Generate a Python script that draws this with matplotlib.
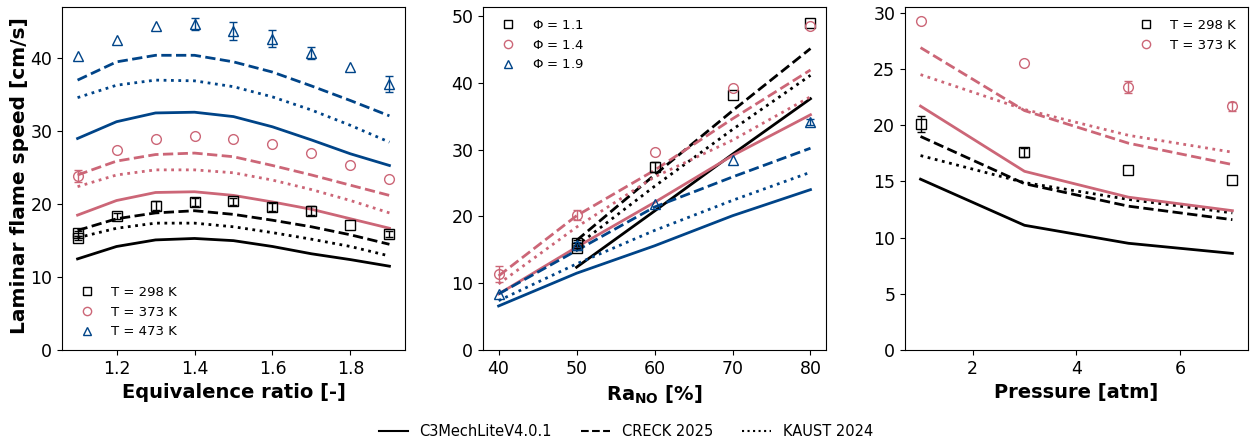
import matplotlib
matplotlib.use("Agg")
import matplotlib.pyplot as plt
from matplotlib.lines import Line2D
import numpy as np

BLACK = 'black'
PINK = '#CC6677'
BLUE = '#004488'

# ---- panel 1: equivalence ratio ----
phi = [1.1, 1.2, 1.3, 1.4, 1.5, 1.6, 1.7, 1.8, 1.9]
phi_298 = [1.1, 1.1, 1.2, 1.3, 1.4, 1.5, 1.6, 1.7, 1.8, 1.9]
exp_298 = [16.0, 15.4, 18.4, 19.8, 20.3, 20.4, 19.6, 19.1, 17.1, 15.9]
err_298 = [0.3, 0.3, 0.4, 0.6, 0.6, 0.5, 0.5, 0.6, 0, 0.4]
exp_373 = [23.9, 27.4, 28.9, 29.4, 28.9, 28.2, 27.0, 25.3, 23.5]
err_373 = [0.8, 0, 0, 0, 0, 0, 0, 0, 0]
exp_473 = [40.3, 42.5, 44.4, 44.7, 43.7, 42.7, 40.7, 38.8, 36.5]
err_473 = [0, 0, 0, 0.8, 1.2, 1.2, 0.8, 0, 1.1]

c3_298 = [12.5, 14.2, 15.1, 15.3, 15.0, 14.2, 13.2, 12.4, 11.5]
creck_298 = [16.4, 18.0, 18.8, 19.1, 18.6, 17.8, 16.9, 15.8, 14.5]
kaust_298 = [15.4, 16.7, 17.4, 17.4, 16.9, 16.1, 15.2, 14.2, 12.9]
c3_373 = [18.5, 20.5, 21.6, 21.7, 21.2, 20.3, 19.3, 18.0, 16.7]
creck_373 = [24.0, 25.9, 26.8, 27.0, 26.5, 25.3, 24.0, 22.6, 21.2]
kaust_373 = [22.4, 24.0, 24.7, 24.7, 24.3, 23.3, 22.0, 20.5, 18.8]
c3_473 = [29.0, 31.3, 32.5, 32.6, 32.0, 30.6, 28.8, 26.9, 25.3]
creck_473 = [37.0, 39.5, 40.4, 40.4, 39.5, 38.1, 36.2, 34.2, 32.1]
kaust_473 = [34.6, 36.3, 37.0, 36.9, 36.1, 34.7, 32.9, 30.8, 28.5]

# ---- panel 2: Ra_NO ----
ra = [40, 50, 60, 70, 80]
ra_11 = [50, 50, 60, 70, 80]
exp_11 = [16.0, 15.3, 27.4, 38.1, 49.0]
err_11 = [0.4, 0.4, 0.8, 0, 0]
exp_14 = [11.4, 20.2, 29.6, 39.2, 48.5]
err_14 = [1.2, 0.7, 0, 0, 0]
exp_19 = [8.4, 15.7, 21.8, 28.5, 34.1]
err_19 = [0, 0.5, 0, 0, 0.5]

ra_black = [50, 60, 70, 80]
c3_11 = [12.4, 20.8, 29.3, 37.6]
creck_11 = [16.4, 26.2, 35.8, 45.1]
kaust_11 = [15.6, 24.5, 33.0, 41.1]
c3_14 = [8.4, 15.4, 22.1, 29.1, 35.2]
creck_14 = [11.1, 20.1, 26.9, 34.6, 41.9]
kaust_14 = [9.9, 18.4, 25.9, 31.4, 37.9]
c3_19 = [6.6, 11.5, 15.6, 20.1, 24.0]
creck_19 = [8.4, 14.9, 21.4, 25.9, 30.2]
kaust_19 = [7.4, 12.9, 17.9, 22.4, 26.6]

# ---- panel 3: pressure ----
p = [1, 3, 5, 7]
expP_298 = [20.1, 17.6, 16.0, 15.1]
errP_298 = [0.7, 0.4, 0, 0]
expP_373 = [29.3, 25.5, 23.4, 21.7]
errP_373 = [0, 0, 0.5, 0.4]
c3P_298 = [15.2, 11.1, 9.5, 8.6]
creckP_298 = [19.0, 14.8, 12.8, 11.6]
kaustP_298 = [17.3, 14.9, 13.4, 12.2]
c3P_373 = [21.7, 15.9, 13.6, 12.4]
creckP_373 = [26.9, 21.3, 18.4, 16.5]
kaustP_373 = [24.5, 21.4, 19.1, 17.6]

LW = 2.0
MS = 7


def exp_points(ax, x, y, err, color, marker, label):
    x, y, err = np.asarray(x), np.asarray(y), np.asarray(err)
    m = err > 0
    if m.any():
        ax.errorbar(x[m], y[m], yerr=err[m], fmt='none', ecolor=color,
                    capsize=3, elinewidth=1.0, zorder=3)
    ax.plot(x, y, marker, color=color, mfc='none', mec=color, ms=MS, mew=1.0,
            label=label, zorder=4)


def model_lines(ax, x, c3, creck, kaust, color):
    ax.plot(x, c3, '-', color=color, lw=LW)
    ax.plot(x, creck, '--', color=color, lw=LW)
    ax.plot(x, kaust, ':', color=color, lw=LW)


leg_kw = dict(frameon=False, fontsize=9.5, handletextpad=0.8, markerscale=0.85)

fig = plt.figure(figsize=(12.52, 4.46), dpi=100)
ax1 = fig.add_axes([0.0495, 0.215, 0.274, 0.769])
ax2 = fig.add_axes([0.3858, 0.215, 0.274, 0.769])
ax3 = fig.add_axes([0.7228, 0.215, 0.274, 0.769])

# panel 1
exp_points(ax1, phi_298, exp_298, err_298, BLACK, 's', 'T = 298 K')
exp_points(ax1, phi, exp_373, err_373, PINK, 'o', 'T = 373 K')
exp_points(ax1, phi, exp_473, err_473, BLUE, '^', 'T = 473 K')
model_lines(ax1, phi, c3_298, creck_298, kaust_298, BLACK)
model_lines(ax1, phi, c3_373, creck_373, kaust_373, PINK)
model_lines(ax1, phi, c3_473, creck_473, kaust_473, BLUE)
ax1.set_ylim(0, 47)
ax1.set_yticks([0, 10, 20, 30, 40])
ax1.set_xticks([1.2, 1.4, 1.6, 1.8])
ax1.set_xlabel('Equivalence ratio [-]', fontsize=14, fontweight='bold')
ax1.set_ylabel('Laminar flame speed [cm/s]', fontsize=14.5, fontweight='bold')
ax1.yaxis.set_label_coords(-0.097, 0.51)
ax1.legend(loc='lower left', **leg_kw)

# panel 2
exp_points(ax2, ra_11, exp_11, err_11, BLACK, 's', '$\\Phi$ = 1.1')
exp_points(ax2, ra, exp_14, err_14, PINK, 'o', '$\\Phi$ = 1.4')
exp_points(ax2, ra, exp_19, err_19, BLUE, '^', '$\\Phi$ = 1.9')
model_lines(ax2, ra_black, c3_11, creck_11, kaust_11, BLACK)
model_lines(ax2, ra, c3_14, creck_14, kaust_14, PINK)
model_lines(ax2, ra, c3_19, creck_19, kaust_19, BLUE)
ax2.set_ylim(0, 51.3)
ax2.set_yticks([0, 10, 20, 30, 40, 50])
ax2.set_xticks([40, 50, 60, 70, 80])
ax2.set_xlabel('Ra$_\\mathbf{NO}$ [%]', fontsize=14, fontweight='bold')
ax2.legend(loc='upper left', **leg_kw)

# panel 3
exp_points(ax3, p, expP_298, errP_298, BLACK, 's', 'T = 298 K')
exp_points(ax3, p, expP_373, errP_373, PINK, 'o', 'T = 373 K')
model_lines(ax3, p, c3P_298, creckP_298, kaustP_298, BLACK)
model_lines(ax3, p, c3P_373, creckP_373, kaustP_373, PINK)
ax3.set_ylim(0, 30.5)
ax3.set_yticks([0, 5, 10, 15, 20, 25, 30])
ax3.set_xticks([2, 4, 6])
ax3.set_xlabel('Pressure [atm]', fontsize=14, fontweight='bold')
ax3.legend(loc='upper right', **leg_kw)

for ax in (ax1, ax2, ax3):
    ax.tick_params(labelsize=12.5)

handles = [Line2D([], [], color='black', ls='-', lw=1.5),
           Line2D([], [], color='black', ls='--', lw=1.5),
           Line2D([], [], color='black', ls=':', lw=1.5)]
fig.legend(handles, ['C3MechLiteV4.0.1', 'CRECK 2025', 'KAUST 2024'],
           loc='center', bbox_to_anchor=(0.5, 0.033), ncol=3, frameon=False,
           fontsize=10.5, columnspacing=2.0)

fig.savefig('out.png', dpi=100)
